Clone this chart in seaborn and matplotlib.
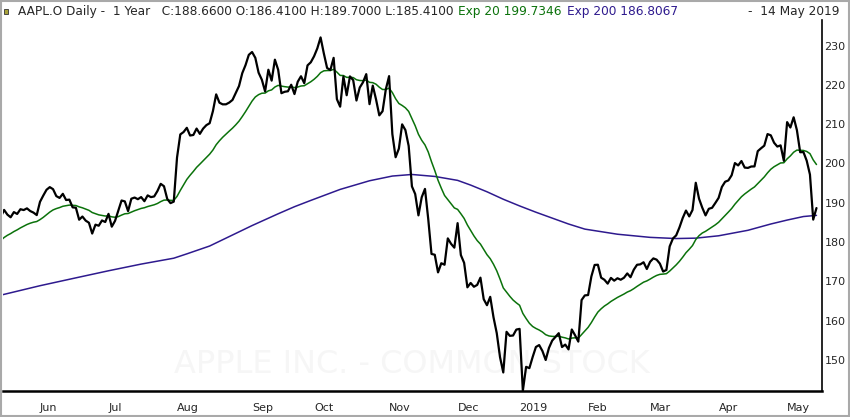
import numpy as np
import pandas as pd
import matplotlib
matplotlib.use('Agg')
import matplotlib.pyplot as plt
import seaborn as sns
from matplotlib.patches import Rectangle

# Trading calendar (NYSE closed days in the window)
holidays = ['2018-05-28', '2018-07-04', '2018-09-03', '2018-11-22', '2018-12-05',
            '2018-12-25', '2019-01-01', '2019-01-21', '2019-02-18', '2019-04-19']
dates = pd.bdate_range('2018-05-14', '2019-05-14', freq='C', holidays=holidays)

# Daily close
close = [
    188.15, 186.44, 188.18, 186.99, 186.31, 187.63, 187.16, 188.36, 188.15, 188.58, 187.90, 187.50, 186.87,
    190.24, 191.83, 193.31, 193.98, 193.46, 191.70, 191.23, 192.28, 190.70, 190.80, 188.84, 188.74, 185.69,
    186.50, 185.46, 184.92, 182.17, 184.43, 184.16, 185.50, 185.11,
    187.18, 183.92, 185.40, 187.97, 190.58, 190.35, 187.88, 191.03, 191.33, 190.91, 191.45, 190.40, 191.88,
    191.44, 191.61, 193.00, 194.82, 194.21, 190.98, 189.91, 190.29,
    201.50, 207.39, 207.99, 209.07, 207.11, 207.25, 208.88, 207.53, 208.87, 209.75, 210.24, 213.32, 217.58,
    215.46, 215.04, 215.05, 215.49, 216.16, 217.94, 219.70, 222.98, 225.03, 227.63,
    228.36, 226.87, 223.10, 221.30, 218.33, 223.85, 221.07, 226.41, 223.84, 217.88, 218.24, 218.37, 220.03,
    217.66, 220.79, 222.19, 220.42, 224.95, 225.74,
    227.26, 229.28, 232.07, 227.99, 224.29, 223.77, 226.87, 216.36, 214.45, 222.11, 217.36, 222.15, 221.19,
    216.02, 219.31, 220.65, 222.73, 215.09, 219.80, 216.30, 212.24, 213.30, 218.86,
    222.22, 207.48, 201.59, 203.77, 209.95, 208.49, 204.47, 194.17, 192.23, 186.80, 191.41, 193.53, 185.86,
    176.98, 176.78, 172.29, 174.62, 174.24, 180.94, 179.55, 178.58,
    184.82, 176.69, 174.72, 168.49, 169.60, 168.63, 169.10, 170.95, 165.48, 163.94, 166.07, 160.89, 156.83,
    150.73, 146.83, 157.17, 156.15, 156.23, 157.74,
    157.92, 142.19, 148.26, 147.93, 150.75, 153.31, 153.80, 152.29, 150.00, 153.07, 154.94, 155.86, 156.82,
    153.30, 153.92, 152.70, 157.76, 156.30, 154.68, 165.25, 166.44,
    166.52, 171.25, 174.18, 174.24, 170.94, 170.41, 169.43, 170.89, 170.18, 170.80, 170.42, 170.93, 172.03,
    171.06, 172.97, 174.23, 174.33, 174.87, 173.15,
    174.97, 175.85, 175.53, 174.52, 172.50, 172.91, 178.90, 180.91, 181.71, 183.73, 186.12, 188.02, 186.53,
    188.16, 195.09, 191.05, 188.74, 186.79, 188.47, 188.72, 189.95,
    191.24, 194.02, 195.35, 195.69, 197.00, 200.10, 199.50, 200.62, 198.95, 198.87, 199.23, 199.25, 203.13,
    203.86, 204.53, 207.48, 207.16, 205.28, 204.30, 204.61, 200.67,
    210.52, 209.15, 211.75, 208.48, 202.86, 202.90, 200.72, 197.18, 185.72, 188.66,
]

# Exp 20 line
ema20 = [
    179.80, 180.43, 181.17, 181.72, 182.16, 182.68, 183.11, 183.61, 184.04, 184.47, 184.80, 185.06, 185.23,
    185.71, 186.29, 186.96, 187.63, 188.18, 188.52, 188.78, 189.11, 189.26, 189.41, 189.36, 189.30, 188.96,
    188.72, 188.41, 188.08, 187.52, 187.22, 186.93, 186.79, 186.63,
    186.68, 186.42, 186.32, 186.48, 186.87, 187.20, 187.27, 187.63, 187.98, 188.26, 188.56, 188.74, 189.04,
    189.27, 189.49, 189.82, 190.30, 190.67, 190.70, 190.62, 190.59,
    191.63, 193.14, 194.55, 195.94, 197.00, 197.97, 199.01, 199.83, 200.69, 201.55, 202.37, 203.42, 204.77,
    205.78, 206.67, 207.46, 208.23, 208.98, 209.83, 210.77, 211.94, 213.19, 214.55,
    215.87, 216.92, 217.51, 217.87, 217.91, 218.48, 218.72, 219.45, 219.87, 219.68, 219.54, 219.43, 219.49,
    219.31, 219.45, 219.71, 219.78, 220.27, 220.79,
    221.41, 222.16, 223.10, 223.57, 223.64, 223.65, 223.96, 223.24, 222.40, 222.37, 221.90, 221.92, 221.85,
    221.30, 221.11, 221.07, 221.23, 220.64, 220.56, 220.16, 219.40, 218.82, 218.83,
    219.15, 218.04, 216.47, 215.26, 214.76, 214.16, 213.24, 211.42, 209.59, 207.42, 205.90, 204.72, 202.92,
    200.45, 198.20, 195.73, 193.72, 191.86, 190.82, 189.75, 188.69,
    188.32, 187.21, 186.02, 184.35, 182.95, 181.58, 180.39, 179.49, 178.16, 176.80, 175.78, 174.36, 172.69,
    170.60, 168.34, 167.27, 166.21, 165.26, 164.55,
    163.92, 161.85, 160.55, 159.35, 158.53, 158.03, 157.63, 157.12, 156.44, 156.12, 156.01, 155.99, 156.07,
    155.81, 155.63, 155.35, 155.58, 155.65, 155.56, 156.48, 157.43,
    158.30, 159.53, 160.93, 162.20, 163.03, 163.73, 164.27, 164.90, 165.40, 165.92, 166.35, 166.78, 167.28,
    167.64, 168.15, 168.73, 169.26, 169.80, 170.12,
    170.58, 171.08, 171.51, 171.79, 171.86, 171.96, 172.62, 173.41, 174.20, 175.11, 176.16, 177.29, 178.17,
    179.12, 180.64, 181.63, 182.31, 182.74, 183.28, 183.80, 184.39,
    185.04, 185.90, 186.80, 187.64, 188.54, 189.64, 190.58, 191.53, 192.24, 192.87, 193.48, 194.03, 194.89,
    195.75, 196.58, 197.62, 198.53, 199.17, 199.66, 200.13, 200.18,
    201.17, 201.93, 202.86, 203.40, 203.35, 203.31, 203.06, 202.50, 200.90, 199.73,
]

# Exp 200 line at a coarser step (it is very smooth)
ema200_dates = ['2018-05-14', '2018-06-01', '2018-06-18', '2018-07-02', '2018-07-17', '2018-07-31',
                '2018-08-06', '2018-08-15', '2018-08-24', '2018-09-04', '2018-09-14', '2018-09-21',
                '2018-09-28', '2018-10-11', '2018-10-24', '2018-11-02', '2018-11-12', '2018-11-21',
                '2018-12-03', '2018-12-10', '2018-12-17', '2018-12-24', '2019-01-02', '2019-01-09',
                '2019-01-16', '2019-01-24', '2019-01-31', '2019-02-14', '2019-03-01', '2019-03-13',
                '2019-03-21', '2019-04-01', '2019-04-12', '2019-04-24', '2019-05-01', '2019-05-08',
                '2019-05-14']
ema200 = [166.3, 168.9, 170.9, 172.7, 174.4, 175.9,
          177.0, 179.0, 181.8, 184.2, 187.2, 189.0,
          190.6, 193.4, 195.6, 196.8, 197.2, 196.7,
          195.7, 194.5, 192.8, 190.9, 189.2, 187.6,
          186.1, 184.6, 183.3, 182.0, 181.2, 180.9,
          181.0, 181.6, 183.0, 184.6, 185.6, 186.5,
          186.8]

header_main = "AAPL.O Daily -  1 Year   C:188.6600 O:186.4100 H:189.7000 L:185.4100"
header_exp20 = "Exp 20 199.7346"
header_exp200 = "Exp 200 186.8067"
header_date = "-  14 May 2019"
watermark = "APPLE INC. - COMMON STOCK"

green = '#0b720b'
purple = '#2e1a8e'

df = pd.DataFrame({'date': dates, 'close': close, 'ema20': ema20})
df['day'] = np.arange(len(df))
slow = pd.DataFrame({'date': pd.to_datetime(ema200_dates), 'ema200': ema200})
slow['day'] = dates.get_indexer(slow['date'])

sns.set_style('white')
plt.rcParams['font.family'] = ['DejaVu Sans']

W, H = 850, 417
fig = plt.figure(figsize=(W / 100, H / 100), dpi=100)
ax = fig.add_axes([3 / W, (H - 390.7) / H, (821.7 - 3) / W, (390.7 - 20) / H])

ax.text(0.5, 0.07, watermark, transform=ax.transAxes, ha='center', va='center',
        fontsize=23, color='#f6f6f6', zorder=0)

sns.lineplot(data=slow, x='day', y='ema200', color=purple, lw=1.1, ax=ax)
sns.lineplot(data=df, x='day', y='ema20', color=green, lw=1.1, ax=ax)
sns.lineplot(data=df, x='day', y='close', color='black', lw=1.6, ax=ax)

ax.set_xlim(1.66, 252.6)
ax.set_ylim(142.19, 236.5)

# month ticks on the first trading day of each month
firsts = df.groupby(df['date'].dt.to_period('M'))['day'].first().iloc[1:]
labels = [p.strftime('%Y') if p.month == 1 else p.strftime('%b') for p in firsts.index]
ax.set_xticks(firsts.values)
ax.set_xticklabels(labels, ha='left')
ax.tick_params(axis='x', direction='out', length=5, width=1.4, pad=4, labelsize=8, color='black')

ax.yaxis.tick_right()
ax.set_yticks(range(150, 231, 10))
ax.tick_params(axis='y', length=0, pad=2, labelsize=8)

ax.set_xlabel('')
ax.set_ylabel('')
for side in ['left', 'top']:
    ax.spines[side].set_visible(False)
ax.spines['right'].set_linewidth(1.2)
ax.spines['bottom'].set_linewidth(1.8)
ax.spines['right'].set_color('black')
ax.spines['bottom'].set_color('black')

# header line
hy = 1 - 11.5 / H
hs = 8.7
t1 = fig.text(18 / W, hy, header_main, fontsize=hs, va='center', ha='left')
t2 = ax.annotate(header_exp20, xy=(1, 0), xycoords=t1, xytext=(3.5, 0), textcoords='offset points',
                 fontsize=hs, color=green, va='bottom', ha='left', annotation_clip=False)
ax.annotate(header_exp200, xy=(1, 0), xycoords=t2, xytext=(3.5, 0), textcoords='offset points',
            fontsize=hs, color=purple, va='bottom', ha='left', annotation_clip=False)
fig.text(840 / W, hy, header_date, fontsize=hs, va='center', ha='right')

fig.patches.append(Rectangle((3.5 / W, 1 - 13.5 / H), 4 / W, 4 / H, transform=fig.transFigure,
                             facecolor='#a8a23a', edgecolor='#333333', lw=0.6))
fig.patches.append(Rectangle((1 / W, 1 / H), (W - 2) / W, (H - 2) / H, transform=fig.transFigure,
                             fill=False, edgecolor='#a9a9a9', lw=1.5))

fig.savefig('out.png', dpi=100, facecolor='white')
